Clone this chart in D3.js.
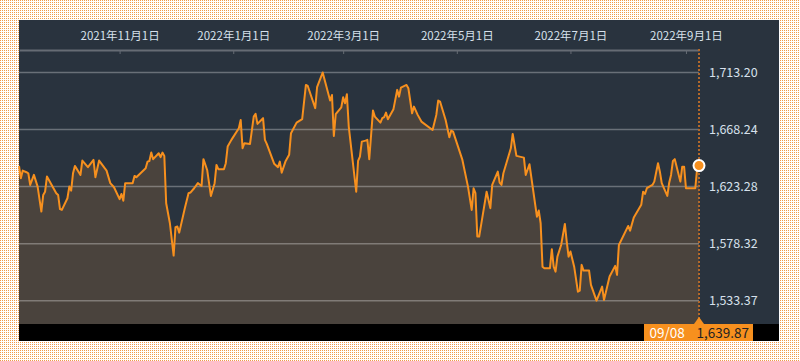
<!DOCTYPE html>
<html>
<head>
<meta charset="utf-8">
<style>
	html, body { margin: 0; padding: 0; background: #fff; }
	svg { display: block; }
</style>
</head>
<body>
<svg width="800" height="361"></svg>
<script src="https://cdn.jsdelivr.net/npm/d3@7"></script>
<script>

// 終値
const dates = [
	'2021-09-08', '2021-09-09', '2021-09-10', '2021-09-12', '2021-09-13', '2021-09-14', '2021-09-16', '2021-09-18', '2021-09-20', '2021-09-21', '2021-09-22', '2021-09-23', '2021-09-28', '2021-09-29', '2021-09-30',
	'2021-10-01', '2021-10-04', '2021-10-05', '2021-10-06', '2021-10-07', '2021-10-08', '2021-10-11', '2021-10-12', '2021-10-15', '2021-10-18', '2021-10-19', '2021-10-21', '2021-10-24', '2021-10-25', '2021-10-27', '2021-10-29',
	'2021-11-01', '2021-11-02', '2021-11-03', '2021-11-04', '2021-11-08', '2021-11-09', '2021-11-10', '2021-11-15', '2021-11-16', '2021-11-17', '2021-11-18', '2021-11-19', '2021-11-22', '2021-11-23', '2021-11-24', '2021-11-25', '2021-11-26', '2021-11-28', '2021-11-30',
	'2021-12-01', '2021-12-02', '2021-12-03', '2021-12-06', '2021-12-08', '2021-12-09', '2021-12-11', '2021-12-13', '2021-12-15', '2021-12-16', '2021-12-18', '2021-12-20', '2021-12-22', '2021-12-23', '2021-12-24', '2021-12-27', '2021-12-28', '2021-12-29', '2021-12-31',
	'2022-01-04', '2022-01-05', '2022-01-06', '2022-01-07', '2022-01-10', '2022-01-12', '2022-01-13', '2022-01-14', '2022-01-17', '2022-01-18', '2022-01-19', '2022-01-23', '2022-01-25', '2022-01-26', '2022-01-27', '2022-01-29', '2022-01-31',
	'2022-02-01', '2022-02-04', '2022-02-07', '2022-02-09', '2022-02-10', '2022-02-14', '2022-02-15', '2022-02-18', '2022-02-22', '2022-02-23', '2022-02-24', '2022-02-25', '2022-02-28',
	'2022-03-01', '2022-03-02', '2022-03-03', '2022-03-04', '2022-03-08', '2022-03-09', '2022-03-10', '2022-03-11', '2022-03-13', '2022-03-14', '2022-03-15', '2022-03-17', '2022-03-18', '2022-03-21', '2022-03-22', '2022-03-23', '2022-03-24', '2022-03-25', '2022-03-28', '2022-03-30', '2022-03-31',
	'2022-04-01', '2022-04-04', '2022-04-05', '2022-04-07', '2022-04-08', '2022-04-10', '2022-04-12', '2022-04-18', '2022-04-20', '2022-04-21', '2022-04-22', '2022-04-25', '2022-04-27', '2022-04-28', '2022-04-29',
	'2022-05-04', '2022-05-07', '2022-05-09', '2022-05-10', '2022-05-11', '2022-05-12', '2022-05-13', '2022-05-17', '2022-05-19', '2022-05-20', '2022-05-23', '2022-05-24', '2022-05-25', '2022-05-26', '2022-05-30', '2022-05-31',
	'2022-06-02', '2022-06-06', '2022-06-07', '2022-06-09', '2022-06-13', '2022-06-14', '2022-06-15', '2022-06-16', '2022-06-17', '2022-06-20', '2022-06-21', '2022-06-22', '2022-06-23', '2022-06-24', '2022-06-26', '2022-06-28', '2022-06-29', '2022-06-30',
	'2022-07-01', '2022-07-03', '2022-07-05', '2022-07-06', '2022-07-07', '2022-07-08', '2022-07-11', '2022-07-12', '2022-07-15', '2022-07-18', '2022-07-19', '2022-07-22', '2022-07-25', '2022-07-26', '2022-07-27',
	'2022-08-01', '2022-08-02', '2022-08-04', '2022-08-08', '2022-08-09', '2022-08-10', '2022-08-11', '2022-08-14', '2022-08-15', '2022-08-17', '2022-08-18', '2022-08-19', '2022-08-22', '2022-08-23', '2022-08-24', '2022-08-25', '2022-08-26', '2022-08-29', '2022-08-30', '2022-08-31',
	'2022-09-01', '2022-09-05', '2022-09-06', '2022-09-07', '2022-09-08'
]

const closes = [
	1639.6, 1629.9, 1635.9, 1634.6, 1633.8, 1624.6, 1632.5, 1623.3, 1603.6, 1616.7, 1619.3, 1631.2, 1618.1, 1616.7, 1605.5,
	1604.9, 1614.1, 1623.3, 1620.1, 1633.8, 1639.6, 1632.5, 1643.8, 1638.6, 1644.3, 1630.7, 1643.8, 1637.8, 1635.9, 1626.0, 1622.8,
	1613.4, 1617.5, 1612.2, 1626.0, 1626.0, 1631.7, 1630.7, 1637.8, 1643.0, 1643.5, 1650.1, 1644.9, 1649.6, 1646.5, 1650.1, 1647.5, 1610.2, 1594.4, 1568.9,
	1591.3, 1591.8, 1587.0, 1606.3, 1618.1, 1618.6, 1622.0, 1626.0, 1623.8, 1644.9, 1636.4, 1615.9, 1626.0, 1640.4, 1637.0, 1637.0, 1641.7, 1654.8, 1660.1,
	1669.3, 1675.8, 1653.5, 1657.5, 1656.9, 1678.4, 1680.6, 1672.7, 1677.2, 1660.1, 1656.9, 1641.2, 1638.6, 1643.0, 1634.3, 1643.0, 1648.3,
	1665.4, 1673.7, 1676.4, 1703.4, 1702.6, 1685.1, 1701.6, 1713.2, 1691.1, 1695.5, 1663.2, 1680.3, 1685.8,
	1693.7, 1689.0, 1696.1, 1670.6, 1619.3, 1643.5, 1646.9, 1658.7, 1659.5, 1660.1, 1644.9, 1683.2, 1678.4, 1673.7, 1677.2, 1678.0, 1681.6, 1676.4, 1684.3, 1699.5, 1694.2,
	1701.3, 1703.4, 1700.8, 1681.1, 1686.3, 1679.8, 1674.5, 1667.9, 1679.8, 1691.1, 1690.3, 1675.8, 1662.2, 1667.4, 1666.6,
	1644.3, 1623.3, 1604.9, 1622.0, 1618.1, 1583.9, 1583.9, 1619.3, 1606.3, 1624.6, 1635.1, 1626.4, 1624.6, 1633.8, 1653.5, 1664.8,
	1647.5, 1646.1, 1632.5, 1640.9, 1599.6, 1604.4, 1594.4, 1560.2, 1559.0, 1559.0, 1574.0, 1560.2, 1556.3, 1568.1, 1577.3, 1593.9, 1579.9, 1568.1,
	1572.1, 1560.2, 1540.5, 1541.3, 1561.6, 1557.1, 1557.1, 1545.8, 1533.4, 1544.5, 1534.0, 1552.4, 1560.8, 1553.7, 1577.3,
	1592.3, 1588.6, 1598.9, 1608.9, 1619.3, 1617.5, 1622.0, 1624.6, 1627.2, 1641.7, 1635.1, 1626.0, 1616.0, 1626.4, 1632.5, 1643.5, 1644.9, 1627.2, 1639.0, 1639.0,
	1622.0, 1622.0, 1622.0, 1637.5, 1639.87
]

const yTicks = [ 1533.37, 1578.32, 1623.28, 1668.24, 1713.20 ]
const xTicks = [ '2021-11-01', '2022-01-01', '2022-03-01', '2022-05-01', '2022-07-01', '2022-09-01' ]
const startDate = '2021-09-08'

const svg = d3.select( 'svg' ),
	width = parseInt( svg.attr( 'width' ) ),
	height = parseInt( svg.attr( 'height' ) ),
	parse = d3.timeParse( '%Y-%m-%d' ),
	fmtPrice = d3.format( ',.2f' ),
	fmtDate = d3.timeFormat( '%Y年%-m月%-d日' ),
	orange = '#f7901e',
	font = '"Noto Sans CJK JP", "Noto Sans", sans-serif',

	panel = { left: 19, right: 779, top: 20, bottom: 341 },
	plot = { left: 19, right: 699, top: 50, bottom: 324 }

const data = dates.map( ( d, i ) => ( { date: parse( d ), value: closes[ i ] } ) ),
	last = data[ data.length - 1 ]

const x = d3.scaleTime()
	.domain( [ parse( startDate ), last.date ] )
	.range( [ plot.left, plot.right ] )

const y = d3.scaleLinear()
	.domain( [ yTicks[ 0 ], yTicks[ yTicks.length - 1 ] ] )
	.range( [ 300.7, 72.5 ] )

// 背景のドット模様
const defs = svg.append( 'defs' )
const pat = defs.append( 'pattern' )
	.attr( 'id', 'dots' )
	.attr( 'width', 2 )
	.attr( 'height', 2 )
	.attr( 'patternUnits', 'userSpaceOnUse' )
pat.append( 'rect' ).attr( 'width', 2 ).attr( 'height', 2 ).attr( 'fill', '#fff' )
pat.append( 'rect' ).attr( 'width', 1 ).attr( 'height', 1 ).attr( 'fill', '#f09a4c' )

svg.append( 'rect' )
	.attr( 'width', width )
	.attr( 'height', height )
	.attr( 'fill', 'url(#dots)' )

svg.append( 'rect' )
	.attr( 'x', panel.left )
	.attr( 'y', panel.top )
	.attr( 'width', panel.right - panel.left )
	.attr( 'height', panel.bottom - panel.top )
	.attr( 'fill', '#29333e' )

// 面
svg.append( 'path' )
	.datum( data )
	.attr( 'fill', '#4a433d' )
	.attr( 'd', d3.area()
		.x( d => x( d.date ) )
		.y0( plot.bottom )
		.y1( d => y( d.value ) ) )

// グリッド
svg.append( 'g' )
	.selectAll( 'line' )
	.data( yTicks )
	.enter()
	.append( 'line' )
	.attr( 'x1', plot.left )
	.attr( 'x2', plot.right )
	.attr( 'y1', d => y( d ) )
	.attr( 'y2', d => y( d ) )
	.attr( 'stroke', 'rgba(255,255,255,0.3)' )
	.attr( 'stroke-width', 1.5 )

// 右の目盛りラベル
svg.append( 'g' )
	.attr( 'font-family', font )
	.attr( 'font-size', 12.5 )
	.attr( 'fill', '#d7e1ec' )
	.selectAll( 'text' )
	.data( yTicks )
	.enter()
	.append( 'text' )
	.attr( 'x', 709 )
	.attr( 'y', d => y( d ) )
	.attr( 'dy', '0.35em' )
	.text( d => fmtPrice( d ) )

// 上の日付軸
const xAxis = svg.append( 'g' )
	.attr( 'transform', `translate(0,${ plot.top })` )
	.call( d3.axisTop( x )
		.tickValues( xTicks.map( parse ) )
		.tickFormat( fmtDate )
		.tickSizeInner( -4 )
		.tickSizeOuter( 0 )
		.tickPadding( 10 ) )

xAxis.select( '.domain' )
	.attr( 'stroke', '#666c74' )
	.attr( 'stroke-width', 2 )
xAxis.selectAll( '.tick line' )
	.attr( 'stroke', '#666c74' )
xAxis.selectAll( '.tick text' )
	.attr( 'fill', '#d7e1ec' )
	.attr( 'font-family', font )
	.attr( 'font-size', 11.5 )

// 折れ線
svg.append( 'path' )
	.datum( data )
	.attr( 'fill', 'none' )
	.attr( 'stroke', orange )
	.attr( 'stroke-width', 2 )
	.attr( 'stroke-linejoin', 'round' )
	.attr( 'd', d3.line()
		.x( d => x( d.date ) )
		.y( d => y( d.value ) ) )

// 最新日の点線
svg.append( 'line' )
	.attr( 'x1', x( last.date ) )
	.attr( 'x2', x( last.date ) )
	.attr( 'y1', plot.top - 1 )
	.attr( 'y2', plot.bottom )
	.attr( 'stroke', '#b3682a' )
	.attr( 'stroke-width', 2 )
	.attr( 'stroke-dasharray', '2,2' )

// 下の黒帯
svg.append( 'rect' )
	.attr( 'x', panel.left )
	.attr( 'y', plot.bottom )
	.attr( 'width', panel.right - panel.left )
	.attr( 'height', panel.bottom - plot.bottom )
	.attr( 'fill', '#000' )

// 最新値のバッジ
const bx = x( last.date )
svg.append( 'path' )
	.attr( 'd', `M${ bx - 5 },${ plot.bottom }L${ bx },${ plot.bottom - 7 }L${ bx + 5 },${ plot.bottom }Z` )
	.attr( 'fill', orange )

svg.append( 'rect' )
	.attr( 'x', bx - 55 )
	.attr( 'y', plot.bottom )
	.attr( 'width', 109 )
	.attr( 'height', panel.bottom - plot.bottom )
	.attr( 'fill', orange )

svg.append( 'text' )
	.attr( 'x', bx - 49.5 )
	.attr( 'y', 337.5 )
	.attr( 'font-family', font )
	.attr( 'font-size', 13.5 )
	.attr( 'fill', '#fff' )
	.text( d3.timeFormat( '%m/%d' )( last.date ) )

svg.append( 'text' )
	.attr( 'x', bx - 2.5 )
	.attr( 'y', 337.5 )
	.attr( 'font-family', font )
	.attr( 'font-size', 13.5 )
	.attr( 'fill', '#222' )
	.text( fmtPrice( last.value ) )

svg.append( 'circle' )
	.attr( 'cx', x( last.date ) )
	.attr( 'cy', y( last.value ) )
	.attr( 'r', 5.5 )
	.attr( 'fill', orange )
	.attr( 'stroke', '#fff' )
	.attr( 'stroke-width', 2 )

</script>
</body>
</html>
